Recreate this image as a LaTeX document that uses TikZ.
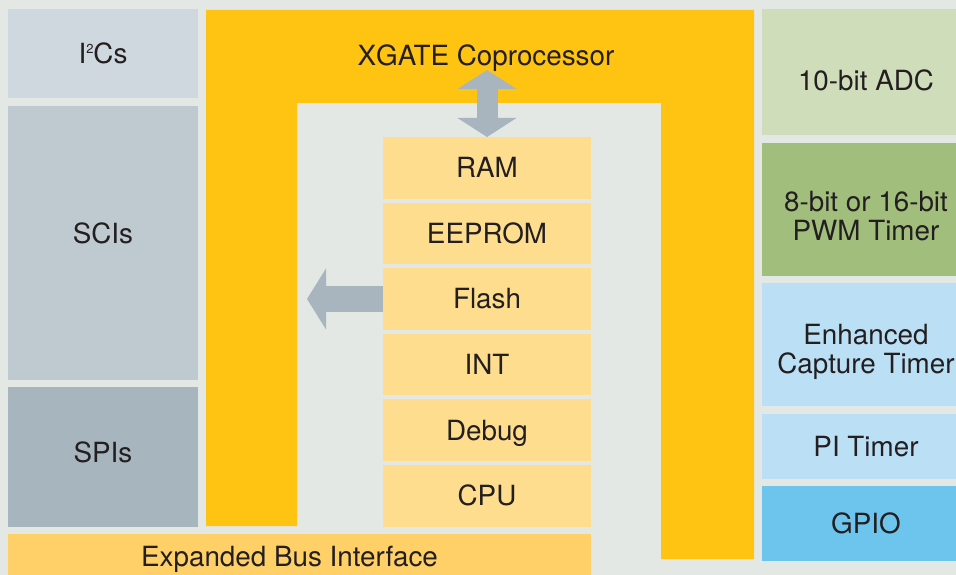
\documentclass[tikz,border=0pt]{standalone}
\usepackage{fontspec}
\setmainfont{TeX Gyre Heros}
\usetikzlibrary{arrows.meta}

\definecolor{bgcol}{HTML}{E3E8E5}
\definecolor{inkcol}{HTML}{231F20}
\definecolor{i2ccol}{HTML}{CFD8DF}
\definecolor{scicol}{HTML}{BFCAD0}
\definecolor{spicol}{HTML}{A7B5BE}
\definecolor{xgcol}{HTML}{FFC312}
\definecolor{memcol}{HTML}{FFDD8E}
\definecolor{buscol}{HTML}{FFD068}
\definecolor{adccol}{HTML}{CFDDBA}
\definecolor{pwmcol}{HTML}{A1BE7C}
\definecolor{tmrcol}{HTML}{BBE0F6}
\definecolor{giocol}{HTML}{6DC5EE}
\definecolor{arrcol}{HTML}{A8B5BE}

\newcommand{\supsmall}[1]{\raisebox{10pt}{\fontsize{13}{13}\selectfont #1}}

\tikzset{
  blk/.style={rectangle, inner sep=0pt, outer sep=0pt, anchor=north west,
    align=center, text=inkcol, font=\fontsize{27.8}{29}\selectfont},
  lbl/.style={text=inkcol, align=center, font=\fontsize{27.8}{29}\selectfont},
  capc/.style={text height=20pt, text depth=0pt},
  mem/.style={blk, capc, fill=memcol, minimum width=208pt, minimum height=61.5pt},
  side/.style={blk, minimum width=208pt},
  port/.style={blk, minimum width=190pt}
}

\begin{document}
\begin{tikzpicture}[x=1pt,y=-1pt]

        \fill[bgcol] (0,0) rectangle (956,575);
        \useasboundingbox (0,0) rectangle (956,575);

        % XGATE frame
        \fill[xgcol] (206,10) -- (754,10) -- (754,559) -- (661,559) -- (661,103)
          -- (297,103) -- (297,526) -- (206,526) -- cycle;
        \node[lbl] (xgate) at (486,58) {XGATE Coprocessor};
        \coordinate (xgtip) at (488,70);
        \coordinate (bustip) at (307,300);

        % serial ports
        \node[port, fill=i2ccol, minimum height=89pt]  (i2c) at (8,9)   {I\supsmall{2}Cs};
        \node[port, fill=scicol, minimum height=274pt,
          label={[lbl,yshift=10pt]center:SCIs}]         (sci) at (8,106) {};
        \node[port, fill=spicol, minimum height=140pt,
          label={[lbl,yshift=5pt]center:SPIs}]          (spi) at (8,387) {};
        \node[blk, fill=buscol, minimum width=583pt, minimum height=48pt,
          label={[lbl,xshift=-10pt,yshift=-1pt]center:Expanded Bus Interface}] (bus) at (8,534) {};

        % memory stack
        \node[mem] (ram)    at (383,137)   {RAM};
        \node[mem] (eeprom) at (383,202.6) {EEPROM};
        \node[mem] (flash)  at (383,268.2) {Flash};
        \node[mem] (int)    at (383,333.8) {INT};
        \node[mem] (debug)  at (383,399.4) {Debug};
        \node[mem] (cpu)    at (383,465)   {CPU};

        % peripherals
        \node[side, fill=adccol, minimum height=126pt,
          label={[lbl,yshift=-8pt]center:10-bit ADC}]   (adc)  at (762,9)   {};
        \node[side, fill=pwmcol, minimum height=133pt,
          label={[lbl,yshift=-7pt]center:8-bit or 16-bit\\PWM Timer}] (pwm) at (762,143) {};
        \node[side, fill=tmrcol, minimum height=123pt,
          label={[lbl,yshift=-7pt]center:Enhanced\\Capture Timer}]   (ect)  at (762,283) {};
        \node[side, capc, fill=tmrcol, minimum height=65pt] (pit)  at (762,414) {PI Timer};
        \node[side, capc, fill=giocol, minimum height=75pt] (gpio) at (762,486) {GPIO};

        % arrows
        \draw[arrcol, line width=21pt,
          {Triangle[width=59pt,length=19pt,line width=0pt]}-{Triangle[width=59pt,length=19pt,line width=0pt]}]
          (ram.north |- xgtip) -- (ram.north);
        \draw[arrcol, line width=26pt,
          -{Triangle[width=61pt,length=19pt,line width=0pt]}]
          (flash.west) -- (flash.west -| bustip);

      \end{tikzpicture}
\end{document}
